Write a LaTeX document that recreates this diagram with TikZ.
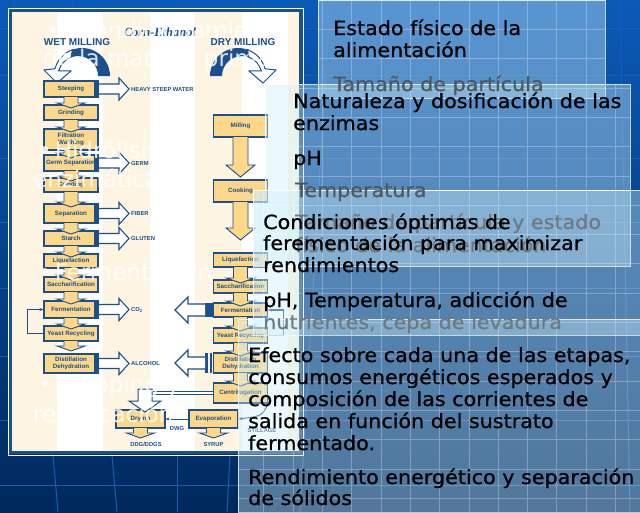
\documentclass[tikz,border=0pt]{standalone}
\usepackage{fontspec}
\setmainfont{DejaVu Sans}
\newfontfamily\vfont[FakeStretch=1.06,FakeBold=0.7]{DejaVu Sans}
\newfontfamily\afont{Liberation Sans}
\newfontfamily\tfont{Liberation Serif}
\usetikzlibrary{arrows.meta}
\definecolor{navy}{HTML}{1B4F8E}
\definecolor{boxfill}{HTML}{FDD88A}
\definecolor{cream}{HTML}{FDF5E2}
\definecolor{panel}{HTML}{CDEEFA}
\definecolor{bgtop}{HTML}{0B5AB8}
\definecolor{bgmid}{HTML}{0A4FA5}
\definecolor{bgbot}{HTML}{00295C}
\definecolor{bgline}{HTML}{1D5CAA}
\definecolor{gA}{HTML}{4E585E}
\definecolor{gB}{HTML}{6E7A80}
\newcommand{\dnarr}[3]{\draw[farrow] (#1-7,#2) -- (#1-7,#3-5) -- (#1-14,#3-5) -- (#1,#3) -- (#1+14,#3-5) -- (#1+7,#3-5) -- (#1+7,#2);}
\newcommand{\rtarr}[1]{\draw[oarrow] (99,#1-5) -- (119,#1-5) -- (119,#1-11) -- (129,#1) -- (119,#1+11) -- (119,#1+5) -- (99,#1+5);}
\newcommand{\ltarr}[1]{\draw[oarrow] (205,#1-6) -- (188,#1-6) -- (188,#1-13) -- (175,#1) -- (188,#1+13) -- (188,#1+6) -- (205,#1+6);}
\begin{document}
\begin{tikzpicture}[x=1pt,y=-1pt,
  fbox/.style={draw=navy, line width=1.1pt, fill=boxfill, inner sep=0pt, font=\afont\bfseries\fontsize{6.2}{6.8}\selectfont, text=navy, align=center, minimum width=54pt},
  flabel/.style={font=\afont\bfseries\fontsize{5.8}{6}\selectfont, text=navy, inner sep=0pt},
  farrow/.style={fill=boxfill, draw=navy, line width=0.9pt},
  oarrow/.style={fill=white, draw=navy, line width=1.1pt},
  ptxt/.style={anchor=base west, inner sep=0pt, font=\vfont\fontsize{19.5}{22}\selectfont, text=black},
  wtxt/.style={anchor=base west, inner sep=0pt, font=\fontsize{23}{28}\selectfont, text=white, text opacity=0.85},
  panelbox/.style={fill=panel, fill opacity=0.4, draw=white, draw opacity=0.75, line width=0.8pt},
  bgl/.style={draw=bgline, line width=1pt}
]
\useasboundingbox (0,0) rectangle (640,512);
% background
\shade[top color=bgtop, middle color=bgmid, bottom color=bgbot] (0,0) rectangle (640,512);
\foreach \yy in {28,75,158,222,288,356,420,485} \draw[bgl] (0,\yy) -- (640,\yy);
\draw[bgl] (13,0) -- (58,512);
\draw[bgl] (72,0) -- (117,512);
\draw[bgl] (177,0) -- (177,512);
\draw[bgl] (254,0) -- (227,512);
\draw[bgl] (330,0) -- (300,512);
\draw[bgl] (620,0) -- (630,512);

% flowchart frame
\fill[white] (10,10) rectangle (301,453);
\foreach \xa/\xb in {12/57,103/150,195/242,288/300} \fill[cream] (\xa,12) rectangle (\xb,451);
\draw[navy, line width=2.5pt] (10.5,10.5) rectangle (300.5,452.5);
\draw[white, line width=1pt] (8,8) rectangle (303,455.5);

% titles
\node[font=\afont\bfseries\fontsize{10}{11}\selectfont, text=navy, inner sep=0pt] (wet) at (77,42) {WET MILLING};
\node[font=\afont\bfseries\fontsize{10}{11}\selectfont, text=navy, inner sep=0pt] (dry) at (243,42) {DRY MILLING};
\node[font=\tfont\itshape\bfseries\fontsize{12.5}{13}\selectfont, text=navy, inner sep=0pt] (title) at (160,32) {Corn-Ethanol};

% curved arrows
\fill[navy] (110,76) arc[start angle=0, end angle=-110, radius=28] -- (71.16,57.21) arc[start angle=-110, end angle=0, radius=20] -- cycle;
\draw[oarrow, line width=1pt] (72.42,49.69) arc[start angle=-110, end angle=-165, radius=28] -- (44,70) -- (57,83) -- (71,71) -- (58.68,70.82) arc[start angle=-165, end angle=-110, radius=20] -- cycle;
\fill[navy] (210,76) arc[start angle=-180, end angle=-70, radius=28] -- (248.84,57.21) arc[start angle=-70, end angle=-180, radius=20] -- cycle;
\draw[oarrow, line width=1pt] (247.58,49.69) arc[start angle=-70, end angle=-15, radius=28] -- (276,70) -- (263,83) -- (249,71) -- (261.32,70.82) arc[start angle=-15, end angle=-70, radius=20] -- cycle;

% wet milling column
\node[fbox, minimum height=16pt] (w1) at (71,89) {Steeping};
\node[fbox, minimum height=15pt] (w2) at (71,112.5) {Grinding};
\node[fbox, minimum height=21pt] (w3) at (71,139.5) {Filtration\\Washing};
\node[fbox, minimum height=16pt] (w4) at (71,163) {Germ Separation};
\node[fbox, minimum height=14pt] (w5) at (71,185) {Grinding};
\node[fbox, minimum height=19pt] (w6) at (71,213.5) {Separation};
\node[fbox, minimum height=15pt] (w7) at (71,238.5) {Starch};
\node[fbox, minimum height=14pt] (w8) at (71,261) {Liquefaction};
\node[fbox, minimum height=15pt] (w9) at (71,284.5) {Saccharification};
\node[fbox, minimum height=17pt] (w10) at (71,309.5) {Fermentation};
\node[fbox, minimum height=15pt] (w11) at (71,333.5) {Yeast Recycling};
\node[fbox, minimum height=19pt] (w12) at (71,363.5) {Distillation\\Dehydration};
\foreach \ya/\yb in {81/97,155/171,204/223,231/246,301/318,354/373} \fill[navy] (94,\ya) rectangle (99,\yb);
\dnarr{71}{97}{108}
\dnarr{71}{120}{132}
\dnarr{71}{150}{158}
\dnarr{71}{171}{181}
\dnarr{71}{192}{207}
\dnarr{71}{223}{234}
\dnarr{71}{246}{257}
\dnarr{71}{268}{280}
\dnarr{71}{292}{304}
\dnarr{71}{318}{329}
\dnarr{71}{341}{351}
\rtarr{89}
\rtarr{163}
\rtarr{213.5}
\rtarr{238.5}
\rtarr{309.5}
\rtarr{363.5}
\node[flabel, anchor=west] (hsw) at (131,89) {HEAVY STEEP WATER};
\node[flabel, anchor=west] (germ) at (131,163) {GERM};
\node[flabel, anchor=west] (fiber) at (131,213.5) {FIBER};
\node[flabel, anchor=west] (gluten) at (131,238.5) {GLUTEN};
\node[flabel, anchor=west] (co2) at (131,309.5) {CO\textsubscript{2}};
\node[flabel, anchor=west] (alc) at (131,363.5) {ALCOHOL};
\draw[navy, line width=1.1pt, -{Stealth[length=4pt]}] (w11.west) -- ++(-16,0) |- (w10.west);

% dry milling column
\node[fbox, minimum height=22pt] (d1) at (240.5,126) {Milling};
\node[fbox, minimum height=22pt] (d2) at (240.5,191) {Cooking};
\draw[farrow] (233,137) -- (233,165) -- (226,165) -- (240.5,177) -- (255,165) -- (248,165) -- (248,137);
\draw[farrow] (233,202) -- (233,228) -- (226,228) -- (240.5,240) -- (255,228) -- (248,228) -- (248,202);
\node[fbox, minimum height=14pt] (d3) at (240.5,260) {Liquefaction};
\node[fbox, minimum height=13pt] (d4) at (240.5,286.5) {Saccharification};
\node[fbox, minimum height=14pt] (d5) at (240.5,310) {Fermentation};
\node[fbox, minimum height=15pt] (d6) at (240.5,335.5) {Yeast Recycling};
\node[fbox, minimum height=20pt] (d7) at (240.5,363) {Distillation\\Dehydration};
\node[fbox, minimum height=20pt] (d8) at (240.5,393) {Centrifugation};
\dnarr{240.5}{267}{283}
\dnarr{240.5}{293}{306}
\dnarr{240.5}{317}{331}
\dnarr{240.5}{343}{356}
\dnarr{240.5}{373}{386}
\fill[navy] (205,303) rectangle (213,317);
\fill[navy] (205,353) rectangle (207.5,373);
\fill[navy] (209.5,353) rectangle (212,373);
\ltarr{310}
\ltarr{363}
\draw[navy, line width=1.1pt, -{Stealth[length=4pt]}] (d6.east) -- ++(15,0) |- (d5.east);

% bottom part
\node[fbox, minimum width=49pt, minimum height=18pt] (dr) at (140.5,419) {Drying};
\node[fbox, minimum width=49pt, minimum height=18pt] (ev) at (213.5,419) {Evaporation};
\draw[navy, line width=0.9pt, double=white, double distance=2.5pt] (d8.west) -- (150,393);
\draw[oarrow, line width=1pt] (138,389) -- (152,389) -- (152,401) -- (161,401) -- (145,412) -- (129,401) -- (138,401) -- cycle;
\dnarr{140.5}{428}{438}
\dnarr{213.5}{428}{438}
\node[flabel] (ddg) at (146,444) {DDG/DDGS};
\node[flabel] (syr) at (213.5,444) {SYRUP};
\draw[navy, line width=0.9pt, -{Stealth[length=4pt]}] (ev.west) -- (dr.east);
\node[flabel] (dwg) at (177,428) {DWG};
\draw[navy, line width=1pt, -{Stealth[length=4pt]}] (d8.south east) .. controls (262,416) .. (ev.east);
\node[flabel] (stl) at (262,430) {STILLAGE};

% white bullet text
\node[wtxt] (b1a) at (46,38) {•\hspace{6pt}Acondicionamiento};
\node[wtxt] (b1b) at (43,66) {de la materia prima};
\node[wtxt] (b2a) at (38,158) {•\hspace{3pt}Hidrólisis};
\node[wtxt] (b2b) at (33,187) {enzimática};
\node[wtxt] (b3a) at (38,280) {•\hspace{3pt}Fermentación};
\node[wtxt] (b4a) at (38,392) {•\hspace{3pt}Stripping y};
\node[wtxt] (b4b) at (33,422) {rectificación};

% panels
\path[panelbox] (318,0) rectangle (605,98);
\path[panelbox] (265,84) rectangle (630,190);
\path[panelbox] (253,190) rectangle (640,335);
\path[panelbox] (253,190) rectangle (630,266);
\path[panelbox] (238,319) rectangle (640,512);
\begin{scope}
\clip (318,0) rectangle (605,98) (265,84) rectangle (630,190) (253,190) rectangle (640,335) (238,319) rectangle (640,512);
\draw[white, opacity=0.28, line width=0.6pt, step=29.3pt] (228,0) grid (640,512);
\end{scope}

% panel texts
\node[ptxt] (a1) at (333,35) {Estado físico de la};
\node[ptxt] (a2) at (333,57) {alimentación};
\node[ptxt, text=gA] (a3) at (333,91) {Tamaño de partícula};
\node[ptxt] (n1) at (293,108) {Naturaleza y dosificación de las};
\node[ptxt] (n2) at (293,130) {enzimas};
\node[ptxt] (n3) at (293,165) {pH};
\node[ptxt, text=gA] (n4) at (295,197) {Temperatura};
\node[ptxt, text=gB] (t1) at (295,229) {Tamaño de partícula y estado};
\node[ptxt, text=gB] (t2) at (295,252) {físico de la alimentación};
\node[ptxt] (c1) at (263,229) {Condiciones óptimas de};
\node[ptxt] (c2) at (263,250) {ferementación para maximizar};
\node[ptxt] (c3) at (263,272) {rendimientos};
\node[ptxt] (c4) at (263,307) {pH, Temperatura, adicción de};
\node[ptxt, text=gB] (c5) at (263,329) {nutrientes, cepa de levadura};
\node[ptxt] (e1) at (248,362) {Efecto sobre cada una de las etapas,};
\node[ptxt] (e2) at (248,384) {consumos energéticos esperados y};
\node[ptxt] (e3) at (248,406) {composición de las corrientes de};
\node[ptxt] (e4) at (248,428) {salida en función del sustrato};
\node[ptxt] (e5) at (248,450) {fermentado.};
\node[ptxt] (e6) at (248,484) {Rendimiento energético y separación};
\node[ptxt] (e7) at (248,505) {de sólidos};
\end{tikzpicture}
\end{document}
